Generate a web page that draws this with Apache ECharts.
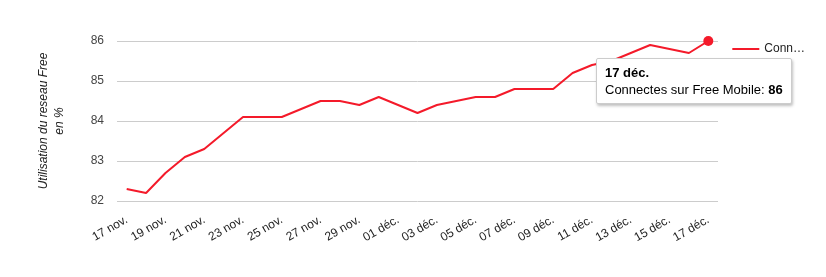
<!DOCTYPE html>
<html><head><meta charset="utf-8">
<script src="https://cdn.jsdelivr.net/npm/echarts@6/dist/echarts.min.js"></script>
<style>html,body{margin:0;padding:0;background:#fff}#c{width:826px;height:277px}</style>
</head><body><div id="c"></div>
<script>
const dates = ["17 nov.","18 nov.","19 nov.","20 nov.","21 nov.","22 nov.","23 nov.","24 nov.","25 nov.","26 nov.","27 nov.","28 nov.","29 nov.","30 nov.","01 déc.","02 déc.","03 déc.","04 déc.","05 déc.","06 déc.","07 déc.","08 déc.","09 déc.","10 déc.","11 déc.","12 déc.","13 déc.","14 déc.","15 déc.","16 déc.","17 déc."];
const values = [82.3,82.2,82.7,83.1,83.3,83.7,84.1,84.1,84.1,84.3,84.5,84.5,84.4,84.6,84.4,84.2,84.4,84.5,84.6,84.6,84.8,84.8,84.8,85.2,85.4,85.5,85.7,85.9,85.8,85.7,86];
const seriesName = "Connectes sur Free Mobile";
const yTicks = [82,83,84,85,86];
const lastIdx = values.length - 1;

const chart = echarts.init(document.getElementById('c'));
chart.setOption({
  animation: false,
  textStyle: {fontFamily: 'Liberation Sans, Arial, sans-serif'},
  grid: {left: 117, right: 108, top: 41, bottom: 76},
  legend: {
    right: 16, top: 38, orient: 'vertical',
    itemWidth: 27, itemHeight: 2, icon: 'rect', itemGap: 6,
    textStyle: {fontSize: 12, color: '#222', width: 44, overflow: 'truncate', ellipsis: '…'},
    data: [seriesName]
  },
  tooltip: {
    trigger: 'item', triggerOn: 'none', alwaysShowContent: true,
    position: [596, 58],
    backgroundColor: '#fff', borderColor: '#ccc', borderWidth: 1,
    padding: [5, 8], extraCssText: 'box-shadow:1px 2px 3px rgba(0,0,0,0.25);border-radius:2px;',
    textStyle: {fontSize: 13, color: '#000', fontFamily: 'Liberation Sans, Arial, sans-serif'},
    formatter: p => '<div style="line-height:17px"><b>' + p.name + '</b><br/>' + p.seriesName + ': <b>' + p.value + '</b></div>'
  },
  xAxis: {
    type: 'category', data: dates, boundaryGap: true,
    axisLine: {show: false}, axisTick: {show: false},
    axisLabel: {interval: 1, rotate: 30, fontSize: 12, color: '#222', margin: 18}
  },
  yAxis: {
    type: 'value', min: yTicks[0], max: yTicks[yTicks.length-1], interval: 1,
    axisLabel: {fontSize: 12, color: '#444', margin: 13},
    splitLine: {lineStyle: {color: '#ccc'}},
    name: 'Utilisation du reseau Free\nen %', nameLocation: 'middle', nameGap: 49,
    nameTextStyle: {fontSize: 12, fontStyle: 'italic', color: '#222', lineHeight: 16}
  },
  series: [{
    name: seriesName, type: 'line', color: '#f41a2a',
    lineStyle: {width: 2}, showSymbol: true,
    data: values.map((v, i) => i === lastIdx ? {value: v, symbol: 'circle', symbolSize: 10} : {value: v, symbol: 'none'})
  }]
});
chart.dispatchAction({type: 'showTip', seriesIndex: 0, dataIndex: lastIdx});
</script></body></html>
